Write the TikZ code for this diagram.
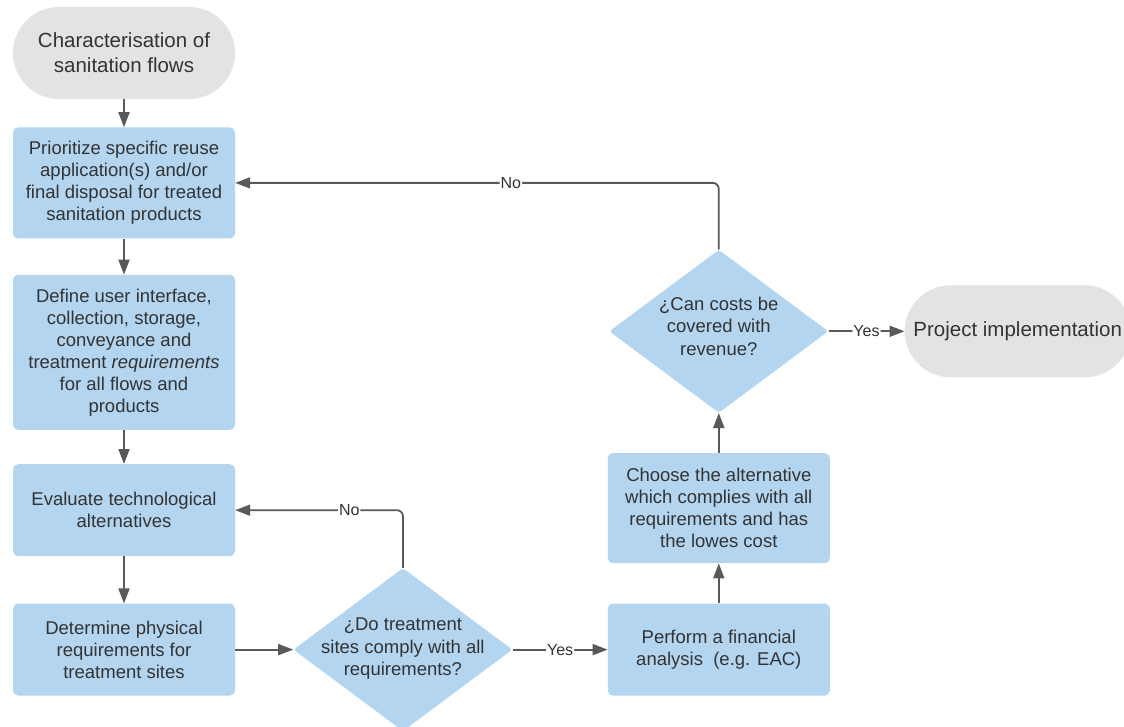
\documentclass[tikz,border=0pt]{standalone}
\usepackage{fontspec}
\setmainfont{Liberation Sans}
\usepackage{tikz}
\usetikzlibrary{shapes}
\usetikzlibrary{shapes.geometric}
\usetikzlibrary{arrows.meta}
\usetikzlibrary{positioning}

\definecolor{boxblue}{HTML}{B3D5F0}
\definecolor{termgray}{HTML}{E3E3E3}
\definecolor{linegray}{HTML}{595959}
\definecolor{textgray}{HTML}{333333}

\begin{document}
\begin{tikzpicture}[x=1pt, y=-1pt,
        process/.style={rectangle, rounded corners=5pt, fill=boxblue, minimum width=222pt, align=center, text=textgray, font=\fontsize{18.5}{22}\selectfont},
        terminal/.style={rectangle, rounded corners=46pt, fill=termgray, minimum width=226pt, minimum height=92pt, align=center, text=textgray, font=\fontsize{20.5}{25}\selectfont},
        decision/.style={diamond, rounded corners=3pt, fill=boxblue, minimum width=219pt, minimum height=163pt, inner sep=0pt},
        qtext/.style={align=center, text=textgray, font=\fontsize{18.5}{22.5}\selectfont},
        flow/.style={->, >={Triangle[length=15pt, width=11pt]}, draw=linegray, line width=1.8pt, rounded corners=6pt},
        answer/.style={fill=white, inner sep=1pt, text=textgray, font=\fontsize{16}{18}\selectfont}]
    \useasboundingbox (0,0) rectangle (1124,727);
    % left column
    \node [terminal, minimum width=222pt] (start) at (124,53) {Characterisation of\\ sanitation flows};
    \node [process, minimum height=111pt, below=28pt of start] (prio) {Prioritize specific reuse\\ application(s) and/or\\ final disposal for treated\\ sanitation products};
    \node [process, minimum height=155pt, below=36pt of prio] (define) {Define user interface,\\ collection, storage,\\ conveyance and\\ treatment \textit{requirements}\\ for all flows and\\ products};
    \node [process, minimum height=92pt, below=34pt of define] (evaluate) {Evaluate technological\\ alternatives};
    \node [process, minimum height=92pt, below=47pt of evaluate] (determine) {Determine physical\\ requirements for\\ treatment sites};
    % decisions and right column
    \node [decision, right=58pt of determine, label={[qtext, yshift=1pt]center:¿Do treatment\\ sites comply with all\\ requirements?}] (comply) {};
    \node [process, minimum height=92pt, right=95pt of comply] (finance) {Perform a financial\\ analysis\ \ (e.g. EAC)};
    \node [process, minimum height=110pt, above=40pt of finance] (choose) {Choose the alternative\\ which complies with all\\ requirements and has\\ the lowes cost};
    \node [decision, above=40pt of choose, label={[qtext, yshift=5pt]center:¿Can costs be\\ covered with\\ revenue?}] (revenue) {};
    \node [terminal, right=76pt of revenue] (impl) {Project implementation};

    \draw [flow] (start) -- (prio);
    \draw [flow] (prio) -- (define);
    \draw [flow] (define) -- (evaluate);
    \draw [flow] (evaluate) -- (determine);
    \draw [flow] (determine) -- (comply);
    \draw [flow] (comply.east) -- node[answer] {Yes} (finance.west);
    \draw [flow] (comply.north) -- (comply.north |- evaluate.east) -- node[answer, pos=0.32] {No} (evaluate.east);
    \draw [flow] (finance) -- (choose);
    \draw [flow] (choose) -- (revenue);
    \draw [flow] (revenue.east) -- node[answer] {Yes} (impl.west);
    \draw [flow] (revenue.north) -- (revenue.north |- prio.east) -- node[answer, pos=0.43] {No} (prio.east);
\end{tikzpicture}
\end{document}
